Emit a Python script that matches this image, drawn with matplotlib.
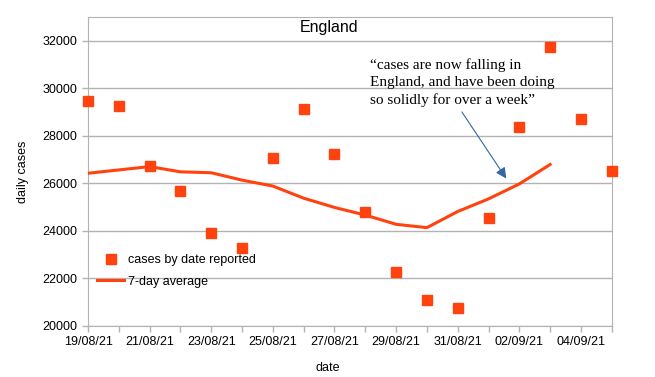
import numpy as np
import pandas as pd
import matplotlib.pyplot as plt
import matplotlib.dates as mdates

dates = pd.date_range('2021-08-19', '2021-09-05', freq='D')
cases = [29470, 29260, 26730, 25690, 23920, 23280, 27070, 29120, 27230,
         24790, 22250, 21080, 20730, 24540, 28380, 31740, 28700, 26530]
avg_dates = dates[:16]
avg7 = [26420, 26560, 26700, 26480, 26440, 26130, 25880, 25370, 24980,
        24660, 24270, 24130, 24810, 25340, 25970, 26790]

quote = '\u201ccases are now falling in\nEngland, and have been doing\nso solidly for over a week\u201d'

plt.rcParams['font.family'] = ['Liberation Sans', 'DejaVu Sans']
orange = '#ff420e'
grey = '#b3b3b3'

fig = plt.figure(figsize=(6.55, 3.77), dpi=100)
ax = fig.add_axes([0.1344, 0.136, 0.7996, 0.819])

ax.plot(dates, cases, 's', color=orange, markersize=7.0, label='cases by date reported',
        zorder=3, clip_on=False)
ax.plot(avg_dates, avg7, '-', color=orange, linewidth=2.2, label='7-day average', zorder=3)

ax.set_xlim(dates[0], dates[-1])
ax.set_ylim(20000, 33000)
ax.set_yticks(np.arange(20000, 32001, 2000))
ax.set_xticks(dates[::2])
ax.xaxis.set_minor_locator(mdates.DayLocator())
ax.xaxis.set_major_formatter(mdates.DateFormatter('%d/%m/%y'))
ax.tick_params(axis='both', which='both', color=grey, labelsize=9, length=4, width=1)
ax.grid(axis='y', color=grey, linewidth=1)
ax.set_axisbelow(True)
for sp in ax.spines.values():
    sp.set_color(grey)

ax.set_xlabel('date', fontsize=9, labelpad=10, x=0.457)
ax.set_ylabel('daily cases', fontsize=9, labelpad=10)
fig.text(0.502, 0.928, 'England', fontsize=11.5, ha='center', va='center')

ax.text(pd.Timestamp('2021-08-28 04:00'), 31250, quote, family='Liberation Serif',
        fontsize=11, va='top', ha='left', linespacing=1.38)
ax.annotate('', xy=(pd.Timestamp('2021-09-01 15:00'), 26100),
            xytext=(pd.Timestamp('2021-08-31 02:00'), 29100),
            arrowprops=dict(arrowstyle='-|>', color='#3465a4', lw=0.8, mutation_scale=16))

ax.legend(loc='lower left', bbox_to_anchor=(0.0, 0.095), frameon=False, fontsize=9,
          handlelength=2.2, handletextpad=0.3, borderaxespad=0.3, labelspacing=0.75)

fig.savefig('out.png', dpi=100)
